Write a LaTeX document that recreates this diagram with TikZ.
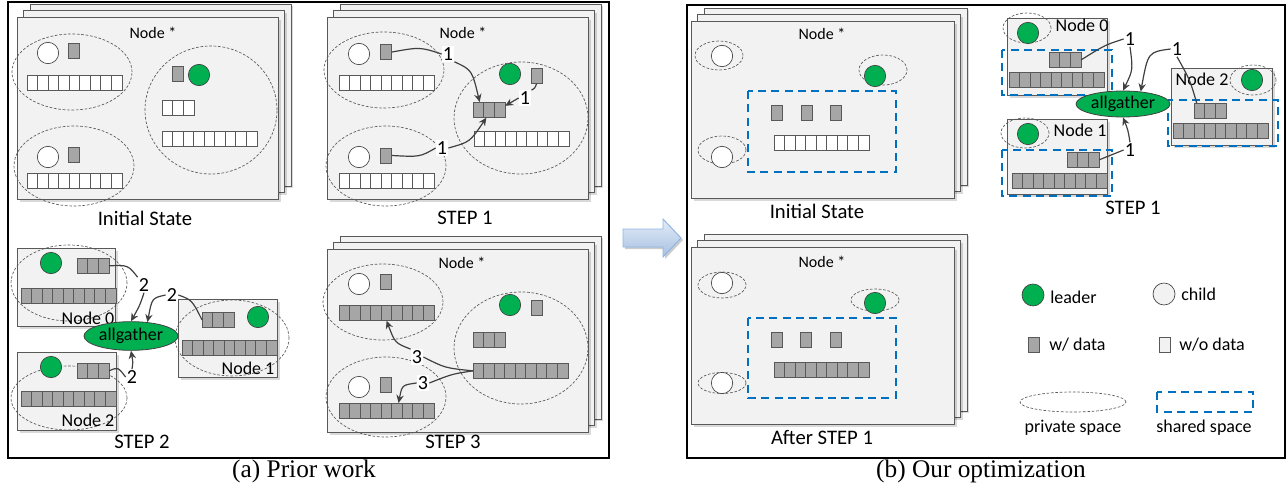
\documentclass[tikz,border=0pt]{standalone}
\usepackage{fontspec}
\setmainfont{Carlito}
\newfontfamily\capfont{Liberation Serif}
\usetikzlibrary{arrows.meta,shapes.geometric,shadows}
\definecolor{cardfill}{HTML}{F2F2F2}
\definecolor{edgegray}{HTML}{595959}
\definecolor{datagray}{HTML}{A6A6A6}
\definecolor{leadgreen}{HTML}{00B050}
\definecolor{shareblue}{HTML}{0070C0}
\definecolor{conngray}{HTML}{404040}
\definecolor{arrtop}{HTML}{E3ECF7}
\definecolor{arrbot}{HTML}{A7C0E2}
\definecolor{arredge}{HTML}{8EB4E3}
\tikzset{
  frame/.style={draw=black, line width=1.6pt},
  card/.style={fill=cardfill, draw=edgegray, line width=0.6pt, inner sep=0pt,
    drop shadow={shadow xshift=1.6pt, shadow yshift=-1.6pt, fill=black, opacity=0.15}},
  priv/.style={ellipse, draw=edgegray, line width=0.5pt, dash pattern=on 2pt off 1.3pt, inner sep=0pt},
  shared/.style={draw=shareblue, line width=1.3pt, dash pattern=on 6pt off 4pt},
  leader/.style={circle, fill=leadgreen, draw=conngray, line width=0.5pt, minimum size=16pt, inner sep=0pt},
  child/.style={circle, fill=white, draw=conngray, line width=0.5pt, minimum size=16pt, inner sep=0pt},
  datacell/.style={fill=datagray, draw=edgegray, line width=0.5pt, inner sep=0pt},
  datacell line/.style={draw=edgegray, line width=0.5pt},
  emptycell/.style={fill=white, draw=edgegray, line width=0.5pt, inner sep=0pt},
  emptycell line/.style={draw=edgegray, line width=0.5pt},
  dtok/.style={datacell, minimum width=8.5pt, minimum height=11.25pt},
  etok/.style={emptycell, fill=cardfill, minimum width=8.5pt, minimum height=11.25pt},
  ntitle/.style={font=\fontsize{12}{14}\selectfont, inner sep=0pt},
  steptxt/.style={font=\fontsize{15.5}{18}\selectfont, inner sep=0pt},
  nodelbl/.style={font=\fontsize{13.5}{16}\selectfont, inner sep=0pt},
  legtxt/.style={font=\fontsize{13.5}{16}\selectfont, inner sep=0pt},
  numlbl/.style={font=\fontsize{15}{17}\selectfont, fill=white, inner sep=0.8pt},
  agnode/.style={ellipse, fill=leadgreen, draw=conngray, line width=0.6pt, inner sep=0pt,
    minimum width=70.5pt, font=\fontsize{13.5}{16}\selectfont},
  captxt/.style={font=\capfont\fontsize{19}{22}\selectfont, inner sep=0pt},
  link/.style={draw=conngray, line width=0.9pt},
  conn/.style={draw=conngray, line width=0.9pt, -{Stealth[length=6pt,width=5.5pt]}},
  bigarrow/.style={draw=arredge, line width=0.7pt, top color=arrtop, bottom color=arrbot,
    drop shadow={shadow xshift=1.5pt, shadow yshift=-1.5pt, fill=black, opacity=0.2}}
}
% row of cells: name, position, count, style
\newcommand\cellrow[4]{%
  \node[#4, anchor=north west, minimum width=#3*7.875pt, minimum height=11.25pt] (#1) at #2 {};
  \pgfmathtruncatemacro\cellnm{#3-1}%
  \foreach \k in {1,...,\cellnm}{\draw[#4 line] ([xshift=\k*7.875pt]#1.north west) -- ([xshift=\k*7.875pt]#1.south west);}
}
% private ellipse: name, x, y, rx, ry (px)
\newcommand\privell[5]{\node[priv, minimum width=#4*1.5pt, minimum height=#5*1.5pt] (#1) at (#2,#3) {};}
% stacked card: name, x, y, w, h (px)
\newcommand\stackcard[5]{%
  \draw[card] (#2+13,#3-13) rectangle ++(#4,#5);
  \draw[card] (#2+6.5,#3-6.5) rectangle ++(#4,#5);
  \node[card, anchor=north west, minimum width=#4*0.75pt, minimum height=#5*0.75pt] (#1) at (#2,#3) {};
}
\newcommand\onecard[5]{%
  \node[card, anchor=north west, minimum width=#4*0.75pt, minimum height=#5*0.75pt] (#1) at (#2,#3) {};
}
\begin{document}
\begin{tikzpicture}[x=0.75pt,y=-0.75pt]
\useasboundingbox (0,0) rectangle (1288,492);

% ---------- frames and captions ----------
\draw[frame] (8,2) rectangle (609,458);
\draw[frame] (687,5) rectangle (1285,458);
\node[captxt] (capa) at (304,471) {(a) Prior work};
\node[captxt] (capb) at (981,471) {(b) Our optimization};
\draw[bigarrow] (623,229) -- (663,229) -- (663,219) -- (681,238) -- (663,257) -- (663,247) -- (623,247) -- cycle;

% ================= (a) Initial State =================
\stackcard{aIS}{17}{17}{261}{182}
\node[ntitle] (aISt) at (153,33) {Node *};
\privell{aISe1}{72}{72}{60}{38}
\privell{aISe2}{74}{166}{60}{40}
\privell{aISe3}{211}{110}{66}{64}
\node[child] (aISc1) at (48,53) {};
\node[dtok] (aISk1) at (73.5,50.5) {};
\cellrow{aISr1}{(27,75)}{9}{emptycell}
\node[child] (aISc2) at (48,157) {};
\node[dtok] (aISk2) at (73.5,154.5) {};
\cellrow{aISr2}{(27,173)}{9}{emptycell}
\node[dtok] (aISk3) at (178,73.5) {};
\node[leader] (aISg) at (199,75) {};
\cellrow{aISr3}{(162,100)}{3}{emptycell}
\cellrow{aISr4}{(162,131)}{9}{emptycell}
\node[steptxt] (aISlab) at (145,218) {Initial State};

% ================= (a) STEP 1 =================
\stackcard{aS1}{327}{17}{261}{182}
\node[ntitle] (aS1t) at (463,33) {Node *};
\privell{aS1e1}{384}{70}{60}{38}
\privell{aS1e2}{386}{166}{60}{40}
\privell{aS1e3}{521}{118}{67}{56}
\node[child] (aS1c1) at (359,54) {};
\node[dtok] (aS1k1) at (386,52) {};
\cellrow{aS1r1}{(339,75)}{9}{emptycell}
\node[child] (aS1c2) at (359,157) {};
\node[dtok] (aS1k2) at (386,155.5) {};
\cellrow{aS1r2}{(339,173)}{9}{emptycell}
\node[leader] (aS1g) at (510,74) {};
\node[dtok] (aS1k3) at (536.5,76) {};
\cellrow{aS1r3}{(473,102)}{3}{datacell}
\cellrow{aS1r4}{(474,131)}{9}{emptycell}
\node[steptxt] (aS1lab) at (465,218) {STEP 1};
\node[numlbl] (aS1n1) at (448,54) {1};
\draw[link] (aS1k1.east) .. controls (420,47) .. (aS1n1.west);
\draw[conn] (aS1n1.south east) .. controls (472,70) .. ([xshift=5pt]aS1r3.north west);
\node[numlbl] (aS1n2) at (442,148) {1};
\draw[link] (aS1k2.east) .. controls (420,157) .. (aS1n2.west);
\draw[conn] (aS1n2.east) .. controls (470,142) .. ([xshift=10pt]aS1r3.south west);
\node[numlbl] (aS1n3) at (525,98) {1};
\draw[link] (aS1k3.south) .. controls (535,88) .. (aS1n3.north east);
\draw[conn] (aS1n3.west) -- ([yshift=3pt]aS1r3.east);

% ================= (a) STEP 2 =================
\onecard{aN0}{17}{248}{98}{78}
\onecard{aN2}{17}{352}{99}{78}
\onecard{aN1}{178}{299}{99}{78}
\privell{aN0e}{69}{283}{58}{38}
\privell{aN2e}{69}{398}{58}{32}
\privell{aN1e}{232}{338}{57}{38}
\node[leader] (aN0g) at (51,263) {};
\cellrow{aN0r3}{(77,258)}{3}{datacell}
\cellrow{aN0r9}{(21,288)}{9}{datacell}
\node[nodelbl] (aN0l) at (88,318) {Node 0};
\node[leader] (aN2g) at (51,367) {};
\cellrow{aN2r3}{(77,363)}{3}{datacell}
\cellrow{aN2r9}{(21,391)}{9}{datacell}
\node[nodelbl] (aN2l) at (88,420) {Node 2};
\node[leader] (aN1g) at (258,317) {};
\cellrow{aN1r3}{(202,312)}{3}{datacell}
\cellrow{aN1r9}{(182,340)}{9}{datacell}
\node[nodelbl] (aN1l) at (248,368) {Node 1};
\node[agnode, minimum height=21.5pt] (aAG) at (131,336) {allgather};
\node[steptxt] (aS2lab) at (142,442) {STEP 2};
\node[numlbl] (aS2n0) at (144,285) {2};
\draw[link] (aN0r3.east) .. controls (128,265) .. (aS2n0.north west);
\draw[conn] (aS2n0.south) .. controls (140,305) .. (aAG.north);
\node[numlbl] (aS2n1) at (172,295) {2};
\draw[link] (aN1r3.west) .. controls (192,300) .. (aS2n1.east);
\draw[conn] (aS2n1.west) .. controls (152,298) .. (aAG.40);
\node[numlbl] (aS2n2) at (132,377) {2};
\draw[link] (aN2r3.east) .. controls (118,367) .. (aS2n2.west);
\draw[conn] (aS2n2.north) .. controls (133,362) .. (aAG.south);

% ================= (a) STEP 3 =================
\stackcard{aS3}{327}{249}{261}{183}
\node[ntitle] (aS3t) at (462,263) {Node *};
\privell{aS3e1}{383}{302}{60}{38}
\privell{aS3e2}{386}{397}{60}{40}
\privell{aS3e3}{521}{348}{67}{56}
\node[child] (aS3c1) at (359,284) {};
\node[dtok] (aS3k1) at (386,281.5) {};
\cellrow{aS3r1}{(339,305)}{9}{datacell}
\node[child] (aS3c2) at (359,387) {};
\node[dtok] (aS3k2) at (386,385) {};
\cellrow{aS3r2}{(339,403)}{9}{datacell}
\node[leader] (aS3g) at (510,305) {};
\node[dtok] (aS3k3) at (536.5,308) {};
\cellrow{aS3r3}{(473,332)}{3}{datacell}
\cellrow{aS3r4}{(473,363)}{9}{datacell}
\node[steptxt] (aS3lab) at (453,442) {STEP 3};
\node[numlbl] (aS3n1) at (417,357) {3};
\draw[link] (aS3r4.west) .. controls (445,368) .. (aS3n1.east);
\draw[conn] (aS3n1.north west) .. controls (395,343) .. (aS3r1.south);
\node[numlbl] (aS3n2) at (423,383) {3};
\draw[link] (aS3r4.west) .. controls (452,374) .. (aS3n2.east);
\draw[conn] (aS3n2.west) .. controls (402,385) .. ([xshift=9pt]aS3r2.north);

% ================= (b) Initial State =================
\stackcard{bIS}{691}{21}{263}{177}
\node[ntitle] (bISt) at (822,34) {Node *};
\privell{bISe1}{719}{55.5}{24}{14.5}
\privell{bISe2}{722}{150}{24}{14}
\privell{bISe3}{883}{70}{24}{15}
\node[child] (bISc1) at (722,56) {};
\node[child] (bISc2) at (722,157) {};
\node[leader] (bISg) at (875,76) {};
\draw[shared] (748,91) rectangle (896,172);
\node[dtok] (bISk1) at (777,112.5) {};
\node[dtok] (bISk2) at (807,112.5) {};
\node[dtok] (bISk3) at (836,112.5) {};
\cellrow{bISr}{(774,135)}{9}{emptycell}
\node[steptxt] (bISlab) at (817,211) {Initial State};

% ================= (b) After STEP 1 =================
\stackcard{bAS}{691}{247}{263}{177}
\node[ntitle] (bASt) at (822,262) {Node *};
\privell{bASe1}{722}{285}{24}{13}
\privell{bASe2}{722}{383}{24}{10.5}
\privell{bASe3}{875}{300}{24}{11}
\node[child] (bASc1) at (722,283) {};
\node[child] (bASc2) at (722,383) {};
\node[leader] (bASg) at (875,303) {};
\draw[shared] (748,318) rectangle (896,398);
\node[dtok] (bASk1) at (777,340) {};
\node[dtok] (bASk2) at (806,340) {};
\node[dtok] (bASk3) at (836,340) {};
\cellrow{bASr}{(774,362)}{9}{datacell}
\node[steptxt] (bASlab) at (822,437) {After STEP 1};

% ================= (b) STEP 1 =================
\onecard{bN0}{1007}{18}{100}{77}
\onecard{bN1}{1007}{119}{100}{75}
\onecard{bN2}{1171}{68}{101}{77}
\privell{bN0e}{1027}{28}{24}{15}
\node[leader] (bN0g) at (1028,33) {};
\node[nodelbl] (bN0l) at (1082,25) {Node 0};
\draw[shared] (1002,50) rectangle (1112,95);
\cellrow{bN0r3}{(1049,52)}{3}{datacell}
\cellrow{bN0r9}{(1009,72)}{9}{datacell}
\privell{bN1e}{1025}{133}{24}{15}
\node[leader] (bN1g) at (1028,134) {};
\node[nodelbl] (bN1l) at (1080,130) {Node 1};
\draw[shared] (1002,150) rectangle (1112,196);
\cellrow{bN1r3}{(1067,152)}{3}{datacell}
\cellrow{bN1r9}{(1012,173)}{9}{datacell}
\privell{bN2e}{1253}{80}{23}{15}
\node[leader] (bN2g) at (1252,80) {};
\node[nodelbl] (bN2l) at (1202,79) {Node 2};
\draw[shared] (1168,100) rectangle (1278,146);
\cellrow{bN2r3}{(1194,103)}{3}{datacell}
\cellrow{bN2r9}{(1173,123)}{9}{datacell}
\node[agnode, minimum height=19.5pt] (bAG) at (1123,104) {allgather};
\node[steptxt] (bS1lab) at (1133,208) {STEP 1};
\node[numlbl] (bS1n0) at (1130,39) {1};
\draw[link] (bN0r3.east) .. controls (1105,45) .. (bS1n0.west);
\draw[conn] (bS1n0.south) .. controls (1133,70) .. (bAG.north);
\node[numlbl] (bS1n2) at (1177,49) {1};
\draw[link] ([xshift=2pt]bN2r3.north west) .. controls (1190,80) .. (bS1n2.south);
\draw[conn] (bS1n2.west) .. controls (1148,52) .. (bAG.35);
\node[numlbl] (bS1n1) at (1130,150) {1};
\draw[link] (bN1r3.east) -- (bS1n1.west);
\draw[conn] (bS1n1.north) .. controls (1128,130) .. (bAG.south);

% ================= legend =================
\node[leader, minimum size=16.5pt] (lgG) at (1033,295) {};
\node[legtxt, anchor=west] (lgGt) at (1050,297) {leader};
\node[child, fill=cardfill, minimum size=16.5pt] (lgC) at (1164,294) {};
\node[legtxt, anchor=west] (lgCt) at (1181,294) {child};
\node[dtok] (lgD) at (1033.5,345) {};
\node[legtxt, anchor=west] (lgDt) at (1049,345) {w/ data};
\node[etok] (lgE) at (1165,345) {};
\node[legtxt, anchor=west] (lgEt) at (1179,345) {w/o data};
\privell{lgP}{1073}{402}{53}{10}
\node[legtxt] (lgPt) at (1073,428) {private space};
\draw[shared] (1157,392) rectangle (1253,412);
\node[legtxt] (lgSt) at (1204,428) {shared space};
\end{tikzpicture}
\end{document}
